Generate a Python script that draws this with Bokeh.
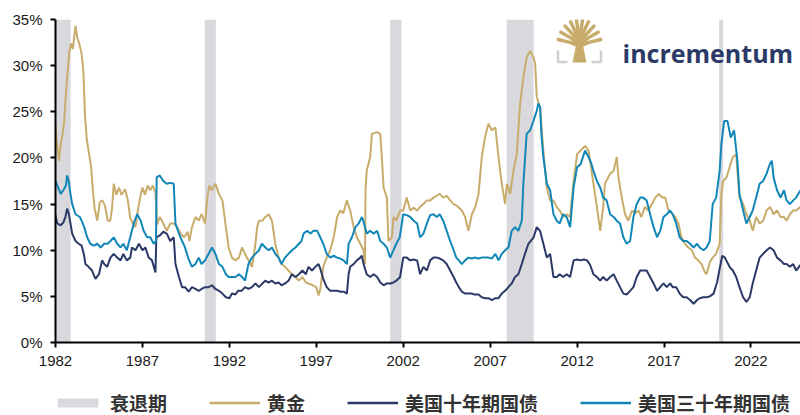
from bokeh.plotting import figure
from bokeh.models import Legend, LegendItem, Range1d, FixedTicker
from bokeh.layouts import column
from bokeh.core.properties import value
from bokeh.embed import file_html
from bokeh.resources import INLINE
import math

# ---------------- data (annualised volatility, %) ----------------
recession_start = [1982.0, 1990.58, 2001.25, 2007.95, 2020.17]
recession_end = [1982.87, 1991.22, 2001.9, 2009.5, 2020.4]

gold_t = [1982.0, 1982.08, 1982.2, 1982.3, 1982.4, 1982.5, 1982.6, 1982.7, 1982.8, 1982.9,
          1983.0, 1983.1, 1983.15, 1983.25, 1983.35, 1983.5, 1983.6, 1983.7, 1983.8, 1983.9,
          1984.05, 1984.15, 1984.25, 1984.4, 1984.55, 1984.7, 1984.85, 1985.0, 1985.15, 1985.25,
          1985.35, 1985.5, 1985.65, 1985.8, 1986.0, 1986.15, 1986.3, 1986.45, 1986.6, 1986.75,
          1986.9, 1987.0, 1987.15, 1987.3, 1987.45, 1987.6, 1987.75, 1987.85, 1988.0, 1988.2,
          1988.4, 1988.6, 1988.8, 1989.0, 1989.2, 1989.4, 1989.6, 1989.7, 1989.85, 1990.05,
          1990.24, 1990.4, 1990.6, 1990.75, 1990.85, 1991.0, 1991.2, 1991.4, 1991.6, 1991.8,
          1991.96, 1992.15, 1992.35, 1992.55, 1992.73, 1992.9, 1993.1, 1993.3, 1993.5, 1993.6,
          1993.7, 1993.9, 1994.07, 1994.26, 1994.45, 1994.64, 1994.83, 1995.0, 1995.2, 1995.4,
          1995.6, 1995.8, 1996.0, 1996.2, 1996.4, 1996.55, 1996.8, 1997.0, 1997.13, 1997.23,
          1997.4, 1997.6, 1997.8, 1998.0, 1998.2, 1998.38, 1998.55, 1998.76, 1998.95, 1999.15,
          1999.33, 1999.53, 1999.72, 1999.8, 1999.83, 1999.9, 2000.1, 2000.2, 2000.5, 2000.68,
          2000.77, 2000.87, 2001.06, 2001.15, 2001.35, 2001.44, 2001.6, 2001.82, 2002.0, 2002.2,
          2002.4, 2002.6, 2002.8, 2002.97, 2003.16, 2003.36, 2003.55, 2003.74, 2003.93, 2004.1,
          2004.3, 2004.5, 2004.7, 2004.9, 2005.1, 2005.37, 2005.56, 2005.75, 2005.95, 2006.15,
          2006.33, 2006.52, 2006.7, 2006.9, 2007.1, 2007.3, 2007.38, 2007.48, 2007.67, 2007.86,
          2007.96, 2008.15, 2008.34, 2008.53, 2008.72, 2008.91, 2009.1, 2009.3, 2009.49, 2009.59,
          2009.68, 2009.87, 2010.06, 2010.26, 2010.45, 2010.64, 2010.83, 2011.0, 2011.2, 2011.4,
          2011.6, 2011.8, 2012.0, 2012.2, 2012.46, 2012.66, 2012.8, 2012.94, 2013.14, 2013.33,
          2013.5, 2013.6, 2013.9, 2014.1, 2014.28, 2014.38, 2014.57, 2014.76, 2014.95, 2015.15,
          2015.35, 2015.53, 2015.7, 2015.9, 2016.1, 2016.3, 2016.5, 2016.7, 2016.9, 2017.07,
          2017.26, 2017.45, 2017.64, 2017.83, 2018.0, 2018.2, 2018.4, 2018.6, 2018.78, 2018.97,
          2019.16, 2019.35, 2019.45, 2019.63, 2019.8, 2020.0, 2020.2, 2020.3, 2020.4, 2020.6,
          2020.77, 2020.96, 2021.15, 2021.25, 2021.34, 2021.55, 2021.74, 2021.93, 2022.1, 2022.3,
          2022.5, 2022.7, 2022.9, 2023.1, 2023.3, 2023.5, 2023.7, 2023.9, 2024.05, 2024.24,
          2024.43, 2024.6, 2024.85]
gold = [23.5, 21.5, 19.7, 21.5, 22.5, 24.0, 27.0, 29.5, 31.5, 32.4,
        31.8, 33.5, 34.3, 33.0, 32.5, 31.3, 29.5, 24.5, 22.0, 20.8,
        19.0, 16.5, 14.5, 13.2, 15.2, 15.4, 14.8, 13.2, 13.2, 14.5,
        17.2, 16.0, 16.8, 16.0, 16.6, 15.5, 13.5, 12.9, 12.5, 14.5,
        16.0, 16.8, 16.0, 17.0, 16.5, 17.0, 16.2, 12.8, 13.6, 12.9,
        12.1, 12.9, 12.9, 12.5, 11.8, 11.4, 12.0, 11.0, 12.5, 13.6,
        13.2, 13.9, 12.9, 16.0, 17.0, 16.5, 17.2, 16.1, 15.4, 12.5,
        10.3, 9.2, 8.9, 9.2, 10.3, 9.6, 8.9, 8.2, 10.7, 12.5,
        13.2, 13.2, 13.6, 13.9, 13.2, 10.7, 9.2, 8.5, 8.2, 7.8,
        7.4, 7.1, 6.7, 7.1, 6.5, 6.4, 6.2, 6.0, 5.1, 5.8,
        8.2, 9.2, 10.0, 11.4, 13.6, 14.3, 14.0, 15.4, 14.3, 12.5,
        11.4, 10.7, 10.0, 8.5, 16.5, 18.6, 20.1, 22.6, 22.8, 22.6,
        20.1, 16.8, 15.7, 11.0, 11.4, 13.6, 13.2, 14.3, 14.3, 15.7,
        14.3, 14.6, 14.3, 14.7, 15.0, 15.4, 15.4, 15.7, 15.9, 16.1,
        15.7, 15.9, 15.4, 15.0, 14.8, 14.3, 13.6, 12.1, 13.9, 14.7,
        16.1, 20.1, 22.2, 23.7, 23.0, 23.3, 21.9, 20.1, 17.2, 15.0,
        17.2, 16.1, 18.6, 20.4, 25.8, 28.7, 30.9, 31.6, 30.9, 30.2,
        26.6, 25.5, 20.8, 16.8, 15.4, 15.4, 14.7, 14.3, 13.6, 13.9,
        13.6, 17.5, 20.4, 20.8, 21.3, 20.8, 19.0, 17.2, 14.7, 12.1,
        14.7, 17.2, 18.3, 18.6, 20.1, 17.9, 15.7, 13.9, 13.2, 14.3,
        14.0, 14.3, 13.6, 14.7, 14.3, 15.0, 15.7, 16.1, 15.7, 15.7,
        14.3, 14.0, 13.6, 12.9, 11.4, 10.7, 10.3, 10.0, 9.2, 8.9,
        8.5, 7.6, 7.4, 8.7, 9.2, 9.6, 10.7, 16.1, 17.5, 17.9,
        19.0, 20.1, 20.4, 17.9, 15.7, 15.0, 13.9, 13.2, 12.1, 13.6,
        12.9, 13.2, 14.3, 14.7, 13.9, 14.3, 13.6, 13.6, 13.2, 13.9,
        14.3, 14.3, 14.7]

t10_t = [1982.0, 1982.1, 1982.3, 1982.45, 1982.57, 1982.67, 1982.76, 1982.86, 1982.96, 1983.15,
         1983.34, 1983.5, 1983.63, 1983.72, 1983.9, 1984.1, 1984.3, 1984.5, 1984.68, 1984.8,
         1984.97, 1985.16, 1985.35, 1985.55, 1985.74, 1985.9, 1986.1, 1986.3, 1986.4, 1986.6,
         1986.8, 1987.0, 1987.17, 1987.36, 1987.55, 1987.75, 1987.8, 1988.0, 1988.2, 1988.4,
         1988.6, 1988.8, 1988.9, 1989.1, 1989.28, 1989.45, 1989.66, 1989.85, 1990.05, 1990.24,
         1990.4, 1990.6, 1990.8, 1991.0, 1991.2, 1991.4, 1991.6, 1991.8, 1992.0, 1992.15,
         1992.35, 1992.5, 1992.7, 1992.9, 1993.1, 1993.3, 1993.5, 1993.7, 1993.9, 1994.07,
         1994.26, 1994.45, 1994.64, 1994.83, 1995.0, 1995.2, 1995.4, 1995.6, 1995.8, 1996.0,
         1996.2, 1996.4, 1996.55, 1996.75, 1996.95, 1997.13, 1997.23, 1997.4, 1997.6, 1997.8,
         1998.0, 1998.2, 1998.4, 1998.6, 1998.76, 1998.86, 1998.95, 1999.15, 1999.33, 1999.53,
         1999.62, 1999.72, 1999.9, 2000.1, 2000.3, 2000.5, 2000.68, 2000.87, 2001.06, 2001.25,
         2001.44, 2001.6, 2001.82, 2002.0, 2002.2, 2002.4, 2002.6, 2002.8, 2002.97, 2003.16,
         2003.36, 2003.55, 2003.74, 2003.93, 2004.1, 2004.3, 2004.5, 2004.7, 2004.9, 2005.05,
         2005.2, 2005.37, 2005.56, 2005.75, 2005.95, 2006.1, 2006.33, 2006.52, 2006.7, 2006.9,
         2007.1, 2007.3, 2007.48, 2007.67, 2007.86, 2008.05, 2008.24, 2008.43, 2008.62, 2008.82,
         2009.0, 2009.2, 2009.5, 2009.68, 2009.87, 2010.06, 2010.26, 2010.45, 2010.64, 2010.83,
         2011.0, 2011.2, 2011.4, 2011.6, 2011.8, 2012.0, 2012.2, 2012.4, 2012.58, 2012.75,
         2012.94, 2013.14, 2013.33, 2013.5, 2013.7, 2013.9, 2014.1, 2014.28, 2014.47, 2014.66,
         2014.85, 2015.05, 2015.24, 2015.43, 2015.63, 2015.8, 2016.0, 2016.2, 2016.4, 2016.6,
         2016.78, 2016.97, 2017.16, 2017.35, 2017.5, 2017.7, 2017.9, 2018.1, 2018.3, 2018.5,
         2018.7, 2018.9, 2019.05, 2019.25, 2019.45, 2019.63, 2019.85, 2020.05, 2020.2, 2020.35,
         2020.5, 2020.77, 2020.96, 2021.15, 2021.34, 2021.55, 2021.74, 2021.93, 2022.1, 2022.3,
         2022.5, 2022.7, 2022.9, 2023.1, 2023.3, 2023.5, 2023.7, 2023.9, 2024.05, 2024.24,
         2024.43, 2024.6, 2024.85]
t10 = [13.8, 12.9, 12.7, 13.0, 13.6, 14.5, 14.0, 12.9, 11.8, 11.0,
       10.7, 10.5, 9.6, 8.5, 8.2, 7.8, 6.9, 7.4, 8.9, 8.5,
       8.2, 9.2, 9.6, 9.2, 8.9, 9.6, 8.9, 9.2, 10.3, 10.0,
       10.7, 10.0, 10.3, 9.2, 8.9, 7.6, 11.4, 11.6, 12.0, 11.8,
       11.0, 11.4, 8.5, 7.1, 6.0, 6.0, 5.5, 6.0, 5.8, 5.6,
       5.8, 6.0, 6.0, 6.2, 5.8, 5.6, 5.3, 4.9, 4.8, 5.3,
       5.2, 5.6, 5.6, 6.0, 5.8, 6.0, 6.4, 6.0, 6.4, 6.7,
       6.5, 6.7, 6.4, 6.5, 6.2, 6.4, 6.7, 7.4, 7.1, 7.4,
       7.8, 7.4, 8.2, 7.8, 8.2, 8.5, 8.0, 6.9, 6.0, 5.6,
       5.6, 5.6, 5.5, 5.5, 5.3, 7.4, 8.2, 8.5, 8.9, 9.2,
       9.4, 8.5, 7.4, 7.1, 7.4, 7.1, 6.5, 6.2, 6.4, 6.4,
       6.5, 6.7, 7.1, 9.2, 9.2, 8.9, 9.0, 8.9, 7.4, 8.2,
       7.8, 8.9, 9.2, 9.2, 9.1, 8.9, 8.5, 7.8, 7.1, 6.5,
       6.0, 5.5, 5.3, 5.3, 5.3, 5.2, 5.2, 4.9, 4.8, 4.8,
       4.6, 4.8, 4.8, 5.3, 5.6, 6.0, 6.4, 7.1, 7.4, 8.5,
       9.6, 10.7, 11.4, 12.5, 12.1, 10.7, 9.2, 9.6, 7.1, 7.1,
       7.4, 7.1, 7.4, 7.1, 8.9, 9.0, 8.9, 9.0, 8.9, 8.4,
       7.4, 7.1, 6.7, 7.1, 6.7, 7.1, 7.4, 6.7, 6.0, 5.3,
       5.2, 5.6, 6.0, 7.1, 7.8, 7.8, 7.8, 7.1, 6.4, 5.6,
       6.0, 6.4, 6.0, 6.4, 6.0, 6.0, 5.3, 4.9, 4.9, 4.6,
       4.2, 4.6, 4.8, 4.9, 4.9, 5.0, 5.3, 6.5, 8.0, 9.4,
       9.2, 8.2, 7.8, 7.1, 6.0, 4.9, 4.4, 4.9, 6.4, 7.8,
       9.2, 9.6, 10.0, 10.3, 10.0, 9.2, 8.9, 8.5, 8.5, 8.2,
       8.5, 7.8, 8.4]

t30_t = [1982.0, 1982.15, 1982.3, 1982.45, 1982.6, 1982.67, 1982.76, 1982.86, 1982.96, 1983.15,
         1983.4, 1983.5, 1983.65, 1983.82, 1984.0, 1984.2, 1984.4, 1984.6, 1984.8, 1985.0,
         1985.16, 1985.35, 1985.55, 1985.74, 1985.9, 1986.1, 1986.3, 1986.5, 1986.7, 1986.9,
         1987.07, 1987.27, 1987.45, 1987.65, 1987.78, 1987.82, 1988.0, 1988.2, 1988.4, 1988.6,
         1988.8, 1988.9, 1989.1, 1989.28, 1989.45, 1989.66, 1989.85, 1990.05, 1990.24, 1990.4,
         1990.6, 1990.8, 1991.0, 1991.2, 1991.4, 1991.6, 1991.8, 1991.96, 1992.15, 1992.35,
         1992.55, 1992.73, 1992.9, 1993.1, 1993.3, 1993.5, 1993.7, 1993.87, 1994.07, 1994.26,
         1994.45, 1994.64, 1994.83, 1995.0, 1995.2, 1995.4, 1995.6, 1995.8, 1996.0, 1996.15,
         1996.27, 1996.47, 1996.66, 1996.85, 1997.05, 1997.23, 1997.4, 1997.6, 1997.8, 1998.0,
         1998.2, 1998.38, 1998.57, 1998.76, 1998.86, 1999.05, 1999.25, 1999.44, 1999.62, 1999.7,
         1999.9, 2000.1, 2000.3, 2000.5, 2000.68, 2000.87, 2001.06, 2001.25, 2001.44, 2001.6,
         2001.8, 2002.0, 2002.2, 2002.4, 2002.6, 2002.8, 2002.97, 2003.16, 2003.36, 2003.55,
         2003.74, 2003.93, 2004.1, 2004.3, 2004.5, 2004.7, 2004.9, 2005.05, 2005.2, 2005.37,
         2005.56, 2005.75, 2005.95, 2006.1, 2006.33, 2006.52, 2006.7, 2006.9, 2007.1, 2007.3,
         2007.48, 2007.67, 2007.86, 2008.05, 2008.24, 2008.43, 2008.62, 2008.82, 2008.91, 2009.1,
         2009.3, 2009.49, 2009.68, 2009.77, 2009.87, 2009.96, 2010.06, 2010.26, 2010.45, 2010.64,
         2010.83, 2011.0, 2011.2, 2011.4, 2011.6, 2011.8, 2012.0, 2012.2, 2012.46, 2012.66,
         2012.8, 2012.94, 2013.14, 2013.33, 2013.5, 2013.7, 2013.9, 2014.1, 2014.28, 2014.47,
         2014.66, 2014.85, 2015.05, 2015.24, 2015.43, 2015.63, 2015.8, 2016.0, 2016.2, 2016.4,
         2016.6, 2016.78, 2016.97, 2017.16, 2017.35, 2017.5, 2017.7, 2017.9, 2018.1, 2018.3,
         2018.5, 2018.7, 2018.9, 2019.05, 2019.27, 2019.45, 2019.63, 2019.8, 2020.0, 2020.2,
         2020.3, 2020.46, 2020.65, 2020.84, 2021.03, 2021.22, 2021.34, 2021.55, 2021.74, 2021.93,
         2022.1, 2022.3, 2022.5, 2022.7, 2022.9, 2023.1, 2023.2, 2023.3, 2023.5, 2023.7,
         2023.9, 2024.05, 2024.24, 2024.43, 2024.6, 2024.85]
t30 = [17.5, 16.8, 16.1, 16.5, 17.0, 18.1, 17.5, 16.1, 15.0, 13.9,
       13.6, 13.2, 12.5, 11.4, 10.7, 10.5, 10.7, 10.3, 10.7, 10.7,
       11.0, 11.4, 10.7, 10.3, 10.7, 10.0, 11.4, 12.9, 13.9, 13.2,
       12.1, 11.4, 11.4, 10.7, 11.0, 17.9, 18.1, 17.5, 17.2, 17.3,
       17.2, 12.9, 11.8, 11.0, 10.3, 9.0, 8.2, 8.5, 9.2, 8.5,
       8.9, 9.6, 10.3, 9.6, 8.5, 8.2, 7.4, 7.1, 7.1, 7.1,
       7.4, 7.1, 6.7, 8.5, 9.2, 9.6, 10.0, 10.7, 10.3, 10.0,
       10.3, 9.6, 9.2, 8.5, 9.2, 9.6, 10.0, 10.3, 10.7, 11.0,
       11.8, 12.1, 11.8, 12.1, 12.1, 11.4, 10.7, 9.6, 9.2, 9.4,
       9.2, 9.1, 8.9, 8.5, 10.7, 11.4, 12.5, 12.9, 13.6, 13.2,
       11.8, 12.1, 11.8, 12.1, 11.0, 10.7, 10.3, 9.2, 10.0, 10.7,
       11.4, 13.9, 13.8, 13.6, 13.2, 12.9, 11.4, 11.8, 12.9, 13.8,
       13.9, 13.6, 13.9, 13.2, 12.1, 11.0, 10.0, 9.2, 8.9, 8.5,
       8.9, 9.2, 9.1, 9.2, 9.1, 9.2, 9.2, 9.2, 9.1, 9.6,
       8.9, 9.6, 10.0, 10.3, 12.1, 12.5, 12.1, 13.2, 17.2, 22.6,
       23.0, 24.0, 25.1, 25.9, 25.5, 22.2, 20.1, 17.2, 16.5, 13.9,
       13.2, 12.9, 13.9, 13.6, 12.5, 16.8, 19.0, 19.3, 20.8, 20.1,
       19.5, 18.6, 17.5, 16.8, 15.7, 15.4, 13.9, 13.6, 13.2, 12.9,
       11.4, 10.7, 11.0, 13.6, 15.0, 15.7, 15.7, 15.4, 13.9, 12.5,
       11.4, 12.1, 13.6, 13.9, 14.3, 13.9, 12.9, 11.4, 11.0, 11.0,
       10.7, 10.3, 10.7, 10.3, 10.0, 10.3, 11.0, 15.0, 15.7, 18.6,
       21.5, 24.0, 24.0, 22.2, 23.0, 19.7, 16.1, 14.3, 12.9, 13.6,
       14.3, 15.7, 17.2, 17.5, 18.3, 19.4, 19.7, 17.9, 16.5, 15.7,
       16.5, 15.4, 15.0, 15.4, 15.7, 16.5]

y_ticks = [0, 5, 10, 15, 20, 25, 30, 35]
x_ticks = [1982, 1987, 1992, 1997, 2002, 2007, 2012, 2017, 2022]
series_names = ["衰退期", "黄金", "美国十年期国债", "美国三十年期国债"]

# ---------------- styling ----------------
GOLD = "#C8AC6B"
NAVY = "#2B3967"
TEAL = "#1187B8"
BAND = "#D9D8DC"

X0, X1 = 1982.0, 2024.85
Y0, Y1 = 0.0, 35.0
W = 800
LEFT, TOP, BOTTOM = 55, 19, 30
H_MAIN = 19 + 323 + BOTTOM      # frame is 323 px tall
H_LEG = 415 - H_MAIN

p = figure(width=W, height=H_MAIN, x_range=Range1d(X0, X1), y_range=Range1d(Y0, Y1),
           output_backend="svg", toolbar_location=None,
           min_border_left=LEFT, min_border_right=0, min_border_top=TOP,
           min_border_bottom=BOTTOM)
p.outline_line_color = None
p.grid.visible = False

rec = p.quad(left=recession_start, right=recession_end, bottom=Y0, top=Y1,
             fill_color=BAND, line_color=None)
r_gold = p.line(gold_t, gold, line_color=GOLD, line_width=2)
r_t10 = p.line(t10_t, t10, line_color=NAVY, line_width=2)
r_t30 = p.line(t30_t, t30, line_color=TEAL, line_width=2)

# axes
for ax in (p.xaxis, p.yaxis):
    ax.axis_line_color = "black"
    ax.axis_line_width = 2
    ax.major_tick_line_color = "black"
    ax.major_tick_line_width = 2
    ax.major_tick_out = 5
    ax.major_tick_in = 0
    ax.minor_tick_out = 0
    ax.minor_tick_in = 0
    ax.major_label_text_font = "Liberation Sans"
    ax.major_label_text_font_size = "15px"
    ax.major_label_text_color = "#1a1a1a"
    ax.major_label_standoff = 8

p.yaxis.ticker = FixedTicker(ticks=y_ticks)
p.yaxis.major_label_overrides = {t: f"{t}%" for t in y_ticks}
p.xaxis.ticker = FixedTicker(ticks=x_ticks)
p.xaxis.major_label_overrides = {t: str(t) for t in x_ticks}

# brand mark in the upper right corner (pixel layout mapped to data space)
FRAME_W = W - LEFT
FRAME_H = H_MAIN - TOP - BOTTOM


def px(xp):
    return X0 + (xp - LEFT) / FRAME_W * (X1 - X0)


def py(yp):
    return Y1 - (yp - TOP) / FRAME_H * (Y1 - Y0)


cx, cy = 579.0, 46.0
branch_xs, branch_ys = [], []
for ang in [165, 148, 131, 114, 98, 82, 66, 49, 32, 15]:
    a = math.radians(ang)
    ex, ey = cx + 22 * math.cos(a), cy - 27 * math.sin(a)
    mx, my = cx + 9 * math.cos(a), cy - 15 * math.sin(a)
    branch_xs.append([px(cx), px(mx), px(ex)])
    branch_ys.append([py(cy), py(my), py(ey)])
p.multi_line(branch_xs, branch_ys, line_color=GOLD, line_width=3.5, line_cap="round")
p.patch([px(v) for v in (572, 586, 582.5, 575.5)], [py(v) for v in (62, 62, 45, 45)],
        fill_color=GOLD, line_color=None)
p.multi_line([[px(557.5), px(557.5), px(567)], [px(600.5), px(600.5), px(591)]],
             [[py(50), py(61.5), py(61.5)], [py(50), py(61.5), py(61.5)]],
             line_color="#CFCFCF", line_width=2.5)
p.text(x=[px(622)], y=[py(52)], text=["incrementum"], text_font=value("Open Sans"),
       text_font_style="bold", text_font_size="25px", text_color=NAVY,
       text_baseline="alphabetic", text_align="left")

# ---------------- legend strip under the chart ----------------
q = figure(width=W, height=H_LEG, x_range=Range1d(0, 1), y_range=Range1d(0, 1),
           output_backend="svg", toolbar_location=None,
           min_border=0, min_border_left=0, min_border_right=0,
           min_border_top=0, min_border_bottom=0)
q.axis.visible = False
q.grid.visible = False
q.outline_line_color = None
# key swatches: styled like the chart's renderers, with geometry outside the strip's view
OFF = [5, 6]
k_rec = q.quad(left=OFF[:1], right=OFF[1:], bottom=OFF[:1], top=OFF[1:],
               fill_color=BAND, line_color=None)
k_gold = q.line(OFF, OFF, line_color=GOLD, line_width=2.5)
k_t10 = q.line(OFF, OFF, line_color=NAVY, line_width=2.5)
k_t30 = q.line(OFF, OFF, line_color=TEAL, line_width=2.5)

legend = Legend(items=[LegendItem(label=series_names[0], renderers=[k_rec]),
                       LegendItem(label=series_names[1], renderers=[k_gold]),
                       LegendItem(label=series_names[2], renderers=[k_t10]),
                       LegendItem(label=series_names[3], renderers=[k_t30])],
                orientation="horizontal", location=(-3, -1),
                spacing=42, glyph_width=51, glyph_height=11, label_standoff=7,
                label_height=20,
                label_text_font="Noto Sans CJK SC", label_text_font_style="bold",
                label_text_font_size="19px", label_text_color="#333333",
                border_line_color=None, background_fill_alpha=0,
                padding=0, margin=0)
q.add_layout(legend, "center")

layout = column(p, q, spacing=0)
open("out.html", "w").write(file_html(layout, INLINE))
